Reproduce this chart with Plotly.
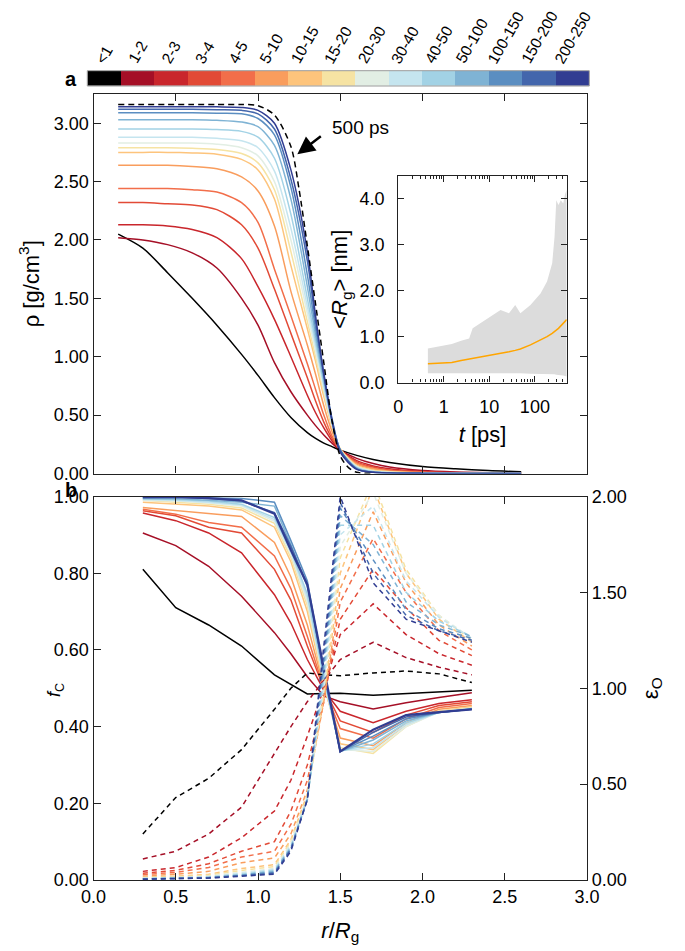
import math
import plotly.graph_objects as go

# ---- time bins (ps) and their colours ----
bins = ["<1", "1-2", "2-3", "3-4", "4-5", "5-10", "10-15", "15-20",
        "20-30", "30-40", "40-50", "50-100", "100-150", "150-200", "200-250"]
colors = ["#000000", "#a50f26", "#c9262c", "#e24a36", "#f26e4a", "#f99d5d",
          "#fdc47c", "#f6e3a3", "#e2eee4", "#c5e5ef", "#a2d2e5", "#7fb3d4",
          "#5b8ec1", "#4366ac", "#313d92"]

# ---- panel a: density profiles ----
r_a = [0.15, 0.3, 0.45, 0.6, 0.75, 0.9, 1.0, 1.1, 1.2, 1.3, 1.35, 1.4, 1.45,
       1.5, 1.6, 1.7, 1.8, 2.0, 2.2, 2.4, 2.6]
rho_lt1 = [2.05, 1.93, 1.72, 1.50, 1.27, 1.02, 0.84, 0.65, 0.48, 0.35, 0.30, 0.26, 0.23, 0.20, 0.155, 0.12, 0.095, 0.06, 0.04, 0.025, 0.015]
rho_1_2 = [2.02, 2.00, 1.96, 1.89, 1.76, 1.50, 1.27, 0.95, 0.70, 0.50, 0.41, 0.33, 0.26, 0.20, 0.13, 0.085, 0.055, 0.025, 0.012, 0.006, 0.003]
rho_2_3 = [2.13, 2.13, 2.12, 2.09, 2.02, 1.84, 1.60, 1.32, 1.00, 0.67, 0.52, 0.39, 0.28, 0.20, 0.11, 0.065, 0.04, 0.017, 0.008, 0.004, 0.002]
rho_3_4 = [2.32, 2.32, 2.31, 2.30, 2.26, 2.13, 1.93, 1.58, 1.20, 0.82, 0.62, 0.44, 0.30, 0.20, 0.10, 0.055, 0.03, 0.012, 0.005, 0.002, 0.001]
rho_4_5 = [2.44, 2.44, 2.44, 2.43, 2.41, 2.32, 2.15, 1.75, 1.35, 0.94, 0.72, 0.50, 0.32, 0.20, 0.09, 0.045, 0.025, 0.01, 0.004, 0.002, 0.001]
rho_5_10 = [2.64, 2.64, 2.64, 2.63, 2.61, 2.54, 2.42, 2.12, 1.56, 1.10, 0.85, 0.58, 0.36, 0.20, 0.08, 0.04, 0.02, 0.008, 0.003, 0.001, 0.0]
rho_10_15 = [2.75, 2.75, 2.75, 2.745, 2.735, 2.69, 2.60, 2.35, 1.78, 1.24, 0.96, 0.66, 0.40, 0.21, 0.07, 0.03, 0.015, 0.005, 0.002, 0.001, 0.0]
rho_15_20 = [2.79, 2.79, 2.79, 2.785, 2.775, 2.74, 2.66, 2.43, 1.90, 1.30, 1.00, 0.69, 0.41, 0.21, 0.065, 0.025, 0.012, 0.004, 0.001, 0.0, 0.0]
rho_20_30 = [2.83, 2.83, 2.83, 2.83, 2.82, 2.79, 2.72, 2.50, 2.00, 1.37, 1.05, 0.72, 0.42, 0.20, 0.06, 0.02, 0.01, 0.003, 0.001, 0.0, 0.0]
rho_30_40 = [2.88, 2.88, 2.88, 2.88, 2.87, 2.85, 2.79, 2.59, 2.10, 1.43, 1.09, 0.75, 0.43, 0.20, 0.055, 0.018, 0.008, 0.002, 0.0, 0.0, 0.0]
rho_40_50 = [2.95, 2.95, 2.95, 2.95, 2.945, 2.93, 2.88, 2.70, 2.22, 1.50, 1.13, 0.77, 0.44, 0.20, 0.05, 0.015, 0.006, 0.002, 0.0, 0.0, 0.0]
rho_50_100 = [3.03, 3.03, 3.03, 3.03, 3.025, 3.01, 2.97, 2.81, 2.35, 1.60, 1.18, 0.80, 0.45, 0.20, 0.045, 0.012, 0.005, 0.001, 0.0, 0.0, 0.0]
rho_100_150 = [3.09, 3.09, 3.09, 3.09, 3.085, 3.08, 3.04, 2.90, 2.45, 1.70, 1.24, 0.83, 0.46, 0.20, 0.04, 0.01, 0.004, 0.001, 0.0, 0.0, 0.0]
rho_150_200 = [3.12, 3.12, 3.12, 3.12, 3.115, 3.11, 3.08, 2.95, 2.52, 1.82, 1.30, 0.86, 0.47, 0.20, 0.04, 0.01, 0.004, 0.001, 0.0, 0.0, 0.0]
rho_200_250 = [3.14, 3.14, 3.14, 3.14, 3.14, 3.135, 3.11, 3.00, 2.60, 1.90, 1.35, 0.85, 0.45, 0.18, 0.035, 0.01, 0.004, 0.001, 0.0, 0.0, 0.0]
rho_all = [rho_lt1, rho_1_2, rho_2_3, rho_3_4, rho_4_5, rho_5_10, rho_10_15, rho_15_20,
           rho_20_30, rho_30_40, rho_40_50, rho_50_100, rho_100_150, rho_150_200, rho_200_250]

r_500 = [0.15, 0.3, 0.45, 0.6, 0.75, 0.9, 1.0, 1.1, 1.2, 1.25, 1.3, 1.35, 1.4, 1.45, 1.5, 1.55, 1.6, 1.7]
rho_500 = [3.16, 3.16, 3.16, 3.16, 3.16, 3.16, 3.15, 3.07, 2.80, 2.43, 1.95, 1.45, 0.95, 0.45, 0.15, 0.05, 0.01, 0.0]

# ---- inset: radius of gyration vs time ----
t_ps = [0.65, 1.5, 2.4, 3.6, 4.3, 10.7, 17.6, 27, 37, 48, 80, 133, 185, 240, 270, 295, 330, 370, 420, 460, 500]
rg_mean = [0.41, 0.435, 0.48, 0.51, 0.53, 0.60, 0.64, 0.67, 0.70, 0.73, 0.82, 0.92, 1.00, 1.07, 1.10, 1.14, 1.18, 1.23, 1.28, 1.33, 1.37]
rg_upper = [0.74, 0.84, 0.91, 0.96, 1.18, 1.43, 1.58, 1.51, 1.69, 1.51, 1.69, 1.94, 2.20, 2.60, 3.17, 3.97, 3.87, 3.97, 3.90, 4.10, 4.20]
rg_lower = [0.20, 0.20, 0.21, 0.21, 0.20, 0.20, 0.20, 0.20, 0.20, 0.20, 0.19, 0.19, 0.19, 0.18, 0.18, 0.17, 0.17, 0.16, 0.15, 0.14, 0.13]

# ---- panel b: carbon fraction (solid) and oxygen enrichment (dashed) ----
r_b = [0.3, 0.5, 0.7, 0.9, 1.1, 1.2, 1.3, 1.4, 1.5, 1.7, 1.9, 2.1, 2.3]
fc_all = [
    [0.81, 0.71, 0.665, 0.61, 0.535, 0.51, 0.485, 0.486, 0.487, 0.482, 0.486, 0.49, 0.495],
    [0.905, 0.872, 0.818, 0.74, 0.645, 0.59, 0.53, 0.48, 0.465, 0.446, 0.462, 0.476, 0.488],
    [0.957, 0.937, 0.905, 0.853, 0.744, 0.67, 0.575, 0.495, 0.44, 0.41, 0.44, 0.46, 0.47],
    [0.963, 0.95, 0.92, 0.905, 0.81, 0.73, 0.61, 0.50, 0.415, 0.385, 0.43, 0.455, 0.465],
    [0.967, 0.954, 0.932, 0.92, 0.845, 0.76, 0.635, 0.50, 0.395, 0.37, 0.42, 0.45, 0.46],
    [0.971, 0.963, 0.955, 0.948, 0.88, 0.79, 0.665, 0.505, 0.37, 0.35, 0.41, 0.445, 0.455],
    [0.985, 0.98, 0.975, 0.965, 0.92, 0.83, 0.70, 0.51, 0.355, 0.34, 0.405, 0.44, 0.452],
    [0.99, 0.985, 0.98, 0.97, 0.93, 0.84, 0.715, 0.515, 0.345, 0.33, 0.40, 0.44, 0.45],
    [0.99, 0.988, 0.983, 0.975, 0.935, 0.85, 0.725, 0.52, 0.34, 0.335, 0.40, 0.438, 0.448],
    [0.992, 0.99, 0.985, 0.978, 0.94, 0.855, 0.735, 0.525, 0.338, 0.345, 0.405, 0.437, 0.447],
    [0.994, 0.992, 0.988, 0.98, 0.945, 0.86, 0.745, 0.53, 0.336, 0.355, 0.41, 0.437, 0.447],
    [0.995, 0.994, 0.99, 0.985, 0.975, 0.875, 0.765, 0.535, 0.335, 0.365, 0.415, 0.437, 0.446],
    [0.997, 0.998, 0.996, 0.995, 0.985, 0.885, 0.78, 0.54, 0.335, 0.375, 0.42, 0.437, 0.446],
    [0.998, 0.998, 0.995, 0.988, 0.958, 0.87, 0.77, 0.545, 0.335, 0.385, 0.425, 0.437, 0.445],
    [0.998, 0.999, 0.996, 0.99, 0.955, 0.86, 0.77, 0.55, 0.335, 0.392, 0.43, 0.438, 0.445],
]
eps_all = [
    [0.24, 0.43, 0.53, 0.68, 0.89, 1.00, 1.08, 1.07, 1.065, 1.08, 1.09, 1.075, 1.03],
    [0.11, 0.15, 0.24, 0.38, 0.66, 0.80, 0.93, 1.04, 1.15, 1.24, 1.16, 1.11, 1.07],
    [0.045, 0.065, 0.12, 0.22, 0.36, 0.52, 0.75, 1.00, 1.28, 1.44, 1.28, 1.18, 1.12],
    [0.035, 0.05, 0.085, 0.15, 0.20, 0.36, 0.60, 0.95, 1.36, 1.62, 1.42, 1.25, 1.17],
    [0.028, 0.04, 0.065, 0.12, 0.15, 0.29, 0.52, 0.93, 1.45, 1.78, 1.50, 1.30, 1.20],
    [0.02, 0.03, 0.045, 0.09, 0.115, 0.24, 0.47, 0.93, 1.52, 1.92, 1.55, 1.33, 1.22],
    [0.015, 0.02, 0.03, 0.06, 0.08, 0.21, 0.45, 0.95, 1.60, 2.05, 1.60, 1.36, 1.24],
    [0.012, 0.016, 0.025, 0.05, 0.07, 0.20, 0.44, 0.98, 1.68, 2.08, 1.62, 1.38, 1.25],
    [0.01, 0.013, 0.02, 0.04, 0.06, 0.19, 0.43, 1.00, 1.74, 2.02, 1.60, 1.38, 1.26],
    [0.008, 0.011, 0.017, 0.035, 0.055, 0.18, 0.43, 1.03, 1.80, 1.95, 1.56, 1.37, 1.26],
    [0.007, 0.01, 0.015, 0.03, 0.05, 0.17, 0.42, 1.06, 1.85, 1.85, 1.50, 1.35, 1.27],
    [0.006, 0.009, 0.013, 0.026, 0.045, 0.17, 0.42, 1.10, 1.90, 1.75, 1.45, 1.33, 1.27],
    [0.005, 0.008, 0.012, 0.024, 0.04, 0.16, 0.42, 1.14, 1.94, 1.67, 1.41, 1.31, 1.26],
    [0.005, 0.007, 0.011, 0.022, 0.035, 0.16, 0.42, 1.18, 1.97, 1.60, 1.38, 1.30, 1.25],
    [0.004, 0.006, 0.01, 0.02, 0.03, 0.15, 0.42, 1.22, 2.00, 1.55, 1.36, 1.30, 1.24],
]

FONT = "Liberation Sans, Arial, Helvetica, sans-serif"
W, H = 685, 951
OFF = 8  # the page body adds an 8px margin


def px_x(a, b):
    return [(a - OFF) / W, (b - OFF) / W]


def px_y(top, bottom):
    return [1 - (bottom - OFF) / H, 1 - (top - OFF) / H]


def symlog(t):
    # linear below 1 ps, log above (matplotlib-style symlog, linthresh = 1)
    return t if t < 1 else 1 + math.log10(t)


fig = go.Figure()

# panel a
for rho, c in zip(rho_all, colors):
    fig.add_trace(go.Scatter(x=r_a, y=rho, mode="lines", xaxis="x", yaxis="y",
                             line=dict(color=c, width=1.5, shape="spline", smoothing=0.8)))
fig.add_trace(go.Scatter(x=r_500, y=rho_500, mode="lines", xaxis="x", yaxis="y",
                         line=dict(color="black", width=1.5, dash="6px,4px",
                                   shape="spline", smoothing=0.8)))

# inset
u = [symlog(t) for t in t_ps]
fig.add_trace(go.Scatter(x=u, y=rg_lower, mode="lines", xaxis="x4", yaxis="y4",
                         line=dict(width=0, color="#dcdcdc")))
fig.add_trace(go.Scatter(x=u, y=rg_upper, mode="lines", xaxis="x4", yaxis="y4",
                         fill="tonexty", fillcolor="#dcdcdc", line=dict(width=0, color="#dcdcdc")))
fig.add_trace(go.Scatter(x=u, y=rg_mean, mode="lines", xaxis="x4", yaxis="y4",
                         line=dict(color="#ffa500", width=1.5)))

# panel b
for eps, c in zip(eps_all, colors):
    fig.add_trace(go.Scatter(x=r_b, y=eps, mode="lines", xaxis="x2", yaxis="y3",
                             line=dict(color=c, width=1.5, dash="5px,4px")))
for i, (fc, c) in enumerate(zip(fc_all, colors)):
    fig.add_trace(go.Scatter(x=r_b, y=fc, mode="lines", xaxis="x2", yaxis="y2",
                             line=dict(color=c, width=2.2 if i == len(colors) - 1 else 1.5)))

# colour key along the top
scale = []
for i, c in enumerate(colors):
    scale += [[i / len(colors), c], [(i + 1) / len(colors), c]]
fig.add_trace(go.Heatmap(x=bins, y=[0], z=[list(range(len(bins)))], xaxis="x5", yaxis="y5",
                         colorscale=scale, zmin=-0.5, zmax=len(bins) - 0.5, showscale=False))
for i, b in enumerate(bins):
    fig.add_annotation(text=b, x=i, y=1, xref="x5", yref="y5 domain", textangle=-60,
                       xanchor="center", yanchor="bottom", yshift=3, showarrow=False,
                       borderpad=0, font=dict(size=15.5))

axis_common = dict(showline=True, linecolor="#222", linewidth=1.3, ticks="inside",
                   tickcolor="#222", ticklen=7, tickwidth=1.2, showgrid=False,
                   zeroline=False, automargin=False, tickfont=dict(size=18, color="black"))

fig.update_layout(
    width=W, height=H, template="none", showlegend=False,
    margin=dict(l=0, r=0, t=0, b=0),
    paper_bgcolor="white", plot_bgcolor="rgba(0,0,0,0)",
    font=dict(family=FONT, size=18, color="black"),
    xaxis=dict(axis_common, domain=px_x(93.5, 587), range=[0, 3], dtick=0.5,
               showticklabels=False, mirror="ticks", anchor="y"),
    yaxis=dict(axis_common, domain=px_y(94, 473.5), range=[0, 3.25], tickvals=[0, 0.5, 1, 1.5, 2, 2.5, 3],
               tickformat=".2f", mirror="ticks", anchor="x",
               title=dict(text="ρ [g/cm<sup>3</sup>]", standoff=8)),
    xaxis2=dict(axis_common, domain=px_x(93.5, 587), range=[0, 3], dtick=0.5, tickformat=".1f",
                mirror="ticks", anchor="y2",
                title=dict(text="<i>r</i>/<i>R</i><sub>g</sub>", standoff=16)),
    yaxis2=dict(axis_common, domain=px_y(496.5, 880), range=[0, 1], dtick=0.2, tickformat=".2f",
                mirror=True, anchor="x2"),
    yaxis3=dict(axis_common, range=[0, 2], dtick=0.5, tickformat=".2f", overlaying="y2",
                side="right", anchor="x2",
                title=dict(text="ε<sub>O</sub>", standoff=16)),
    xaxis4=dict(axis_common, domain=px_x(398.3, 566.7), range=[0, 1 + math.log10(500)],
                tickvals=[0, 1, 2, 3], ticktext=["0", "1", "10", "100"], ticklen=6,
                ticklabelstandoff=8, mirror="ticks", anchor="y4",
                minor=dict(ticks="inside", ticklen=3, tickcolor="#222",
                           tickvals=[1 + math.log10(k * 10 ** d) for d in (-1, 0, 1, 2)
                                     for k in range(2, 10) if k * 10 ** d <= 500]),
                title=dict(text="<i>t</i> [ps]", standoff=10)),
    yaxis4=dict(axis_common, domain=px_y(176, 382.5), range=[0, 4.5], tickvals=[0, 1, 2, 3, 4],
                tickformat=".1f", ticklen=6, ticklabelstandoff=9, mirror="ticks", anchor="x4",
                title=dict(text="&lt;<i>R</i><sub>g</sub>&gt; [nm]", standoff=5)),
    xaxis5=dict(domain=px_x(87.3, 589.3), anchor="y5", showticklabels=False, range=[-0.5, 14.5],
                showline=False, ticks="", showgrid=False, zeroline=False, automargin=False),
    yaxis5=dict(domain=px_y(70.7, 86), visible=False, anchor="x5"),
)

fig.add_shape(type="rect", xref="x5 domain", yref="y5 domain", x0=0, x1=1, y0=0, y1=1,
              line=dict(color="#9a9a9a", width=1))

# f_C title sits between the tick labels, as in the reference
fig.add_annotation(text="<i>f</i><sub>C</sub>", xref="paper", yref="paper",
                   x=(55 - OFF) / W, y=1 - (690 - OFF) / H, xanchor="center", yanchor="middle",
                   textangle=-90, showarrow=False, font=dict(size=18))

# panel letters
fig.add_annotation(text="<b>a</b>", xref="paper", yref="paper", x=(71 - OFF) / W, y=1 - (79 - OFF) / H,
                   xanchor="center", yanchor="middle", showarrow=False, font=dict(size=20))
fig.add_annotation(text="<b>b</b>", xref="paper", yref="paper", x=(71 - OFF) / W, y=1 - (490 - OFF) / H,
                   xanchor="center", yanchor="middle", showarrow=False, font=dict(size=20))

# 500 ps label with arrow
fig.add_annotation(x=1.239, y=2.735, xref="x", yref="y", ax=25, ay=-19, text="",
                   showarrow=True, arrowhead=2, arrowsize=1.4, arrowwidth=2.5, arrowcolor="black")
fig.add_annotation(x=1.44, y=2.96, xref="x", yref="y", text="500 ps", xanchor="left",
                   showarrow=False, font=dict(size=19))

fig.write_html("out.html")
